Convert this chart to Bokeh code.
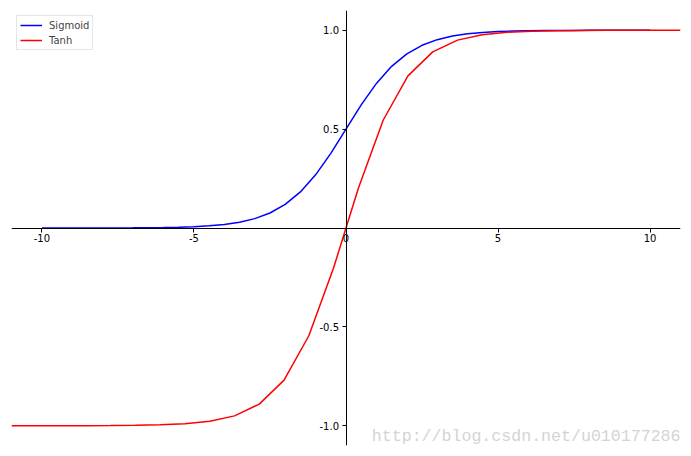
from bokeh.plotting import figure
from bokeh.models import FixedTicker, Label, Legend, LegendItem
from bokeh.embed import file_html
from bokeh.resources import INLINE

# Sigmoid curve samples
sig_x = [-10.0, -9.5, -9.0, -8.5, -8.0, -7.5, -7.0, -6.5, -6.0, -5.5, -5.0,
         -4.5, -4.0, -3.5, -3.0, -2.5, -2.0, -1.5, -1.0, -0.5, 0.0,
         0.5, 1.0, 1.5, 2.0, 2.5, 3.0, 3.5, 4.0, 4.5, 5.0,
         5.5, 6.0, 6.5, 7.0, 7.5, 8.0, 8.5, 9.0, 9.5, 10.0]
sig_y = [0.0000, 0.0001, 0.0001, 0.0002, 0.0003, 0.0006, 0.0009, 0.0015, 0.0025, 0.0041, 0.0067,
         0.0110, 0.0180, 0.0293, 0.0474, 0.0759, 0.1192, 0.1824, 0.2689, 0.3775, 0.5000,
         0.6225, 0.7311, 0.8176, 0.8808, 0.9241, 0.9526, 0.9707, 0.9820, 0.9890, 0.9933,
         0.9959, 0.9975, 0.9985, 0.9991, 0.9994, 0.9997, 0.9998, 0.9999, 0.9999, 1.0000]

# Tanh curve samples (sparser)
tanh_x = [-11.0, -10.185, -9.370, -8.556, -7.741, -6.926, -6.111, -5.296, -4.481, -3.667,
          -2.852, -2.037, -1.222, -0.407, 0.407, 1.222, 2.037, 2.852, 3.667, 4.481,
          5.296, 6.111, 6.926, 7.741, 8.556, 9.370, 10.185, 11.0]
tanh_y = [-1.0000, -0.9999, -0.9998, -0.9996, -0.9991, -0.9980, -0.9956, -0.9900, -0.9776, -0.9502,
          -0.8908, -0.7693, -0.5449, -0.2008, 0.2008, 0.5449, 0.7693, 0.8908, 0.9502, 0.9776,
          0.9900, 0.9956, 0.9980, 0.9991, 0.9996, 0.9998, 0.9999, 1.0000]

x_ticks = [-10, -5, 0, 5, 10]
x_tick_labels = ["-10", "-5", "0", "5", "10"]
y_ticks = [-1.0, -0.5, 0.5, 1.0]
y_tick_labels = ["-1.0", "-0.5", "0.5", "1.0"]
series_names = ["Sigmoid", "Tanh"]
watermark = "http://blog.csdn.net/u010177286"

p = figure(frame_width=669, frame_height=435,
           x_range=(-11, 11), y_range=(-1.1, 1.1),
           output_backend="svg", toolbar_location=None,
           min_border_left=11, min_border_top=10, min_border_right=11, min_border_bottom=11)
p.background_fill_color = "white"
p.border_fill_color = "white"
p.outline_line_color = None
p.grid.visible = False

for ax, ticks, labels in ((p.xaxis, x_ticks, x_tick_labels), (p.yaxis, y_ticks, y_tick_labels)):
    ax.fixed_location = 0
    ax.ticker = FixedTicker(ticks=ticks)
    ax.major_label_overrides = {t: l for t, l in zip(ticks, labels)}
    ax.axis_line_color = "black"
    ax.axis_line_width = 1
    ax.major_tick_line_color = "black"
    ax.major_tick_in = 0
    ax.major_tick_out = 4
    ax.minor_tick_line_color = None
    ax.major_label_text_font = "DejaVu Sans"
    ax.major_label_text_font_size = "10px"
    ax.major_label_text_color = "black"
p.xaxis.major_label_standoff = 2
p.yaxis.major_label_standoff = 3

r1 = p.line(sig_x, sig_y, line_color="#0000ff", line_width=1.5)
r2 = p.line(tanh_x, tanh_y, line_color="#ff0000", line_width=1.5)

legend = Legend(items=[LegendItem(label=series_names[0], renderers=[r1]),
                       LegendItem(label=series_names[1], renderers=[r2])],
                location="top_left", margin=5, padding=3, spacing=3,
                glyph_width=22, glyph_height=12, label_height=12, label_standoff=7,
                label_text_font="DejaVu Sans", label_text_font_size="10px",
                border_line_color="#cccccc", border_line_width=1,
                background_fill_color="white", background_fill_alpha=0.8)
p.add_layout(legend)

p.add_layout(Label(x=11, y=-1.1, text=watermark, text_align="right", text_baseline="bottom",
                   y_offset=0, text_font="Liberation Mono", text_font_size="16.6px",
                   text_color="#d4d4d4"))

open("out.html", "w").write(file_html(p, INLINE))
